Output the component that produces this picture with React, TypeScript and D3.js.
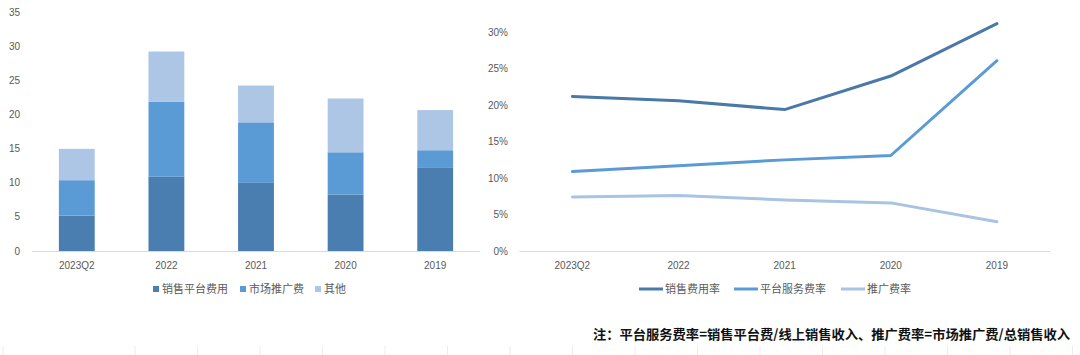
import React from "react";
import * as d3 from "d3";

const categories = ["2023Q2", "2022", "2021", "2020", "2019"];
const barSeriesNames = ["销售平台费用", "市场推广费", "其他"];
const platformFee = [5.2, 10.9, 10.0, 8.3, 12.2];
const marketingFee = [5.2, 11.0, 8.9, 6.2, 2.6];
const otherFee = [4.6, 7.4, 5.4, 7.9, 5.9];
const leftTicks = [0, 5, 10, 15, 20, 25, 30, 35];

const lineSeriesNames = ["销售费用率", "平台服务费率", "推广费率"];
const salesExpenseRate = [21.2, 20.6, 19.4, 24.0, 31.2];
const platformServiceRate = [10.9, 11.7, 12.5, 13.1, 26.1];
const promotionRate = [7.4, 7.6, 7.0, 6.6, 4.0];
const rightTicks = [0, 5, 10, 15, 20, 25, 30];

const note = "注：平台服务费率=销售平台费/线上销售收入、推广费率=市场推广费/总销售收入";

const barColors = ["#4a7eb0", "#5b9bd5", "#adc6e6"];
const lineColors = ["#4a78a9", "#5b9bd5", "#a9c3e3"];
const axisColor = "#d9d9d9";
const textColor = "#595959";
const font = "'Liberation Sans', Arial, sans-serif";
const cjk = "'Noto Sans CJK SC', sans-serif";

export default function App() {
  const W = 1080, H = 355;

  // Left chart
  const lx = d3.scaleBand().domain(categories).range([32, 480]).paddingInner(0.6).paddingOuter(0.3);
  const ly = d3.scaleLinear().domain([0, 35]).range([251, 12.7]);
  const barData = categories.map((c, i) => ({ cat: c, a: platformFee[i], b: marketingFee[i], c: otherFee[i] }));
  const stack = d3.stack<any>().keys(["a", "b", "c"])(barData);

  // Right chart
  const rx = d3.scalePoint().domain(categories).range([519.3, 1050]).padding(0.5);
  const ry = d3.scaleLinear().domain([0, 30]).range([251, 32.3]);
  const lineSeries = [salesExpenseRate, platformServiceRate, promotionRate];
  const line = d3.line<number>().x((_, i) => rx(categories[i]) as number).y((v) => ry(v));

  const leftLegendX = [153, 240, 315];
  const rightLegendX = [639, 734, 841];

  const bottomTicks = [3, ...d3.range(135, 1080, 62.5)];

  return (
    <svg width={W} height={H} style={{ position: "absolute", left: 0, top: 0, background: "#fff" }}>
      {/* left y ticks */}
      {leftTicks.map((t) => (
        <text key={"lt" + t} x={20} y={ly(t)} dy="0.35em" textAnchor="end" fontSize={10} fontFamily={font} fill={textColor}>
          {t}
        </text>
      ))}
      {/* bars */}
      {stack.map((s, si) =>
        s.map((d, i) => (
          <rect
            key={`b${si}-${i}`}
            x={lx(categories[i])}
            width={lx.bandwidth()}
            y={ly(d[1])}
            height={ly(d[0]) - ly(d[1])}
            fill={barColors[si]}
          />
        ))
      )}
      <line x1={32} x2={480} y1={251.5} y2={251.5} stroke={axisColor} strokeWidth={1} />
      {categories.map((c) => (
        <text key={"lx" + c} x={(lx(c) as number) + lx.bandwidth() / 2} y={269} textAnchor="middle" fontSize={10} fontFamily={font} fill={textColor}>
          {c}
        </text>
      ))}
      {/* left legend */}
      {barSeriesNames.map((n, i) => (
        <g key={"ll" + n}>
          <rect x={leftLegendX[i]} y={286} width={6} height={6} fill={barColors[i]} />
          <text x={leftLegendX[i] + 9} y={289} dy="0.35em" fontSize={11} fontFamily={cjk} fill={textColor}>
            {n}
          </text>
        </g>
      ))}

      {/* right y ticks */}
      {rightTicks.map((t) => (
        <text key={"rt" + t} x={508} y={ry(t)} dy="0.35em" textAnchor="end" fontSize={10} fontFamily={font} fill={textColor}>
          {t + "%"}
        </text>
      ))}
      <line x1={519.3} x2={1050} y1={251.5} y2={251.5} stroke={axisColor} strokeWidth={1} />
      {lineSeries.map((s, i) => (
        <path key={"ln" + i} d={line(s) as string} fill="none" stroke={lineColors[i]} strokeWidth={3} strokeLinejoin="round" strokeLinecap="round" />
      ))}
      {categories.map((c) => (
        <text key={"rx" + c} x={rx(c) as number} y={269} textAnchor="middle" fontSize={10} fontFamily={font} fill={textColor}>
          {c}
        </text>
      ))}
      {lineSeriesNames.map((n, i) => (
        <g key={"rl" + n}>
          <line x1={rightLegendX[i]} x2={rightLegendX[i] + 24} y1={289} y2={289} stroke={lineColors[i]} strokeWidth={3} />
          <text x={rightLegendX[i] + 26} y={289} dy="0.35em" fontSize={11} fontFamily={cjk} fill={textColor}>
            {n}
          </text>
        </g>
      ))}

      {/* note */}
      <text x={593} y={334} dy="0.35em" fontSize={13} fontWeight="bold" fontFamily={cjk} fill="#111" textLength={477} lengthAdjust="spacingAndGlyphs">
        {note}
      </text>

      {/* faint cell border ticks */}
      {bottomTicks.map((x, i) => (
        <line key={"bt" + i} x1={x} x2={x} y1={346} y2={355} stroke="#ececec" strokeWidth={1} />
      ))}
    </svg>
  );
}
